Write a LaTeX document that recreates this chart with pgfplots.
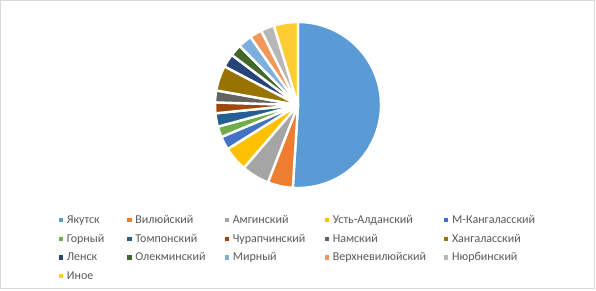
\documentclass[border=0pt]{standalone}
\usepackage{fontspec}
\setmainfont{Carlito}
\usepackage{pgfplots}
\usepackage{pgfplotstable}
\pgfplotsset{compat=1.18}

\definecolor{pc0}{HTML}{5B9BD5}
\definecolor{pc1}{HTML}{ED7D31}
\definecolor{pc2}{HTML}{A5A5A5}
\definecolor{pc3}{HTML}{FFC000}
\definecolor{pc4}{HTML}{4472C4}
\definecolor{pc5}{HTML}{70AD47}
\definecolor{pc6}{HTML}{255E91}
\definecolor{pc7}{HTML}{9E480E}
\definecolor{pc8}{HTML}{636363}
\definecolor{pc9}{HTML}{997300}
\definecolor{pc10}{HTML}{264478}
\definecolor{pc11}{HTML}{43682B}
\definecolor{pc12}{HTML}{7CAFDD}
\definecolor{pc13}{HTML}{F1975A}
\definecolor{pc14}{HTML}{B7B7B7}
\definecolor{pc15}{HTML}{FFCD33}
\definecolor{textgray}{HTML}{595959}
\definecolor{bordergray}{HTML}{D9D9D9}

% shares in percent, clockwise from 12 o'clock
\pgfplotstableread{
val
51.0
4.9
5.4
4.8
2.6
2.1
2.6
2.1
2.3
4.9
2.6
2.3
2.7
2.4
2.6
4.7
}\piedata

\gdef\cum{0}
\pgfplotstableforeachcolumnelement{val}\of\piedata\as\v{%
  \pgfmathsetmacro\tmpa{90-3.6*\cum}%
  \pgfmathsetmacro\tmpc{\cum+\v}%
  \global\let\cum\tmpc
  \pgfmathsetmacro\tmpb{90-3.6*\cum}%
  \expandafter\xdef\csname sa\pgfplotstablerow\endcsname{\tmpa}%
  \expandafter\xdef\csname sb\pgfplotstablerow\endcsname{\tmpb}%
}

\begin{document}
\begin{tikzpicture}
\begin{axis}[
  x=1pt, y=1pt,
  xmin=0, xmax=447, ymin=0, ymax=217.5,
  hide axis, clip=false,
  legend columns=5,
  legend image code/.code={\fill[#1, draw=none] (0pt,-1.6pt) rectangle (3.2pt,1.6pt);},
  legend style={
    at={(axis description cs:0.0984,0.2598)}, anchor=north west,
    draw=none, fill=none, inner sep=0pt,
    font=\fontsize{9}{10.8}\selectfont, text=textgray,
    row sep=6pt,
    nodes={inner sep=0pt, text height=6.5pt, text depth=1.5pt},
    /tikz/every odd column/.append style={column sep=2.8pt},
    /tikz/column 2/.style={text width=45.4pt},
    /tikz/column 4/.style={text width=67pt},
    /tikz/column 6/.style={text width=69pt},
    /tikz/column 8/.style={text width=83.5pt},
    /tikz/column 10/.style={text width=70pt},
  },
]
\path (axis cs:0,0) rectangle (axis cs:447,217.5);
\draw[bordergray, line width=0.75pt] (axis cs:0.4,1.2) rectangle (axis cs:446,217.1);

\pgfplotsinvokeforeach{0,...,15}{
  \filldraw[fill=pc#1, draw=white, line width=1.8pt, line join=round]
    (axis cs:223.5,138.75) -- ++(\csname sa#1\endcsname:62.25pt)
    arc[start angle=\csname sa#1\endcsname, end angle=\csname sb#1\endcsname, radius=62.25pt]
    -- cycle;
}

\addlegendimage{fill=pc0}\addlegendentry{Якутск}
\addlegendimage{fill=pc1}\addlegendentry{Вилюйский}
\addlegendimage{fill=pc2}\addlegendentry{Амгинский}
\addlegendimage{fill=pc3}\addlegendentry{Усть-Алданский}
\addlegendimage{fill=pc4}\addlegendentry{М-Кангаласский}
\addlegendimage{fill=pc5}\addlegendentry{Горный}
\addlegendimage{fill=pc6}\addlegendentry{Томпонский}
\addlegendimage{fill=pc7}\addlegendentry{Чурапчинский}
\addlegendimage{fill=pc8}\addlegendentry{Намский}
\addlegendimage{fill=pc9}\addlegendentry{Хангаласский}
\addlegendimage{fill=pc10}\addlegendentry{Ленск}
\addlegendimage{fill=pc11}\addlegendentry{Олекминский}
\addlegendimage{fill=pc12}\addlegendentry{Мирный}
\addlegendimage{fill=pc13}\addlegendentry{Верхневилюйский}
\addlegendimage{fill=pc14}\addlegendentry{Нюрбинский}
\addlegendimage{fill=pc15}\addlegendentry{Иное}
\end{axis}
\end{tikzpicture}
\end{document}
